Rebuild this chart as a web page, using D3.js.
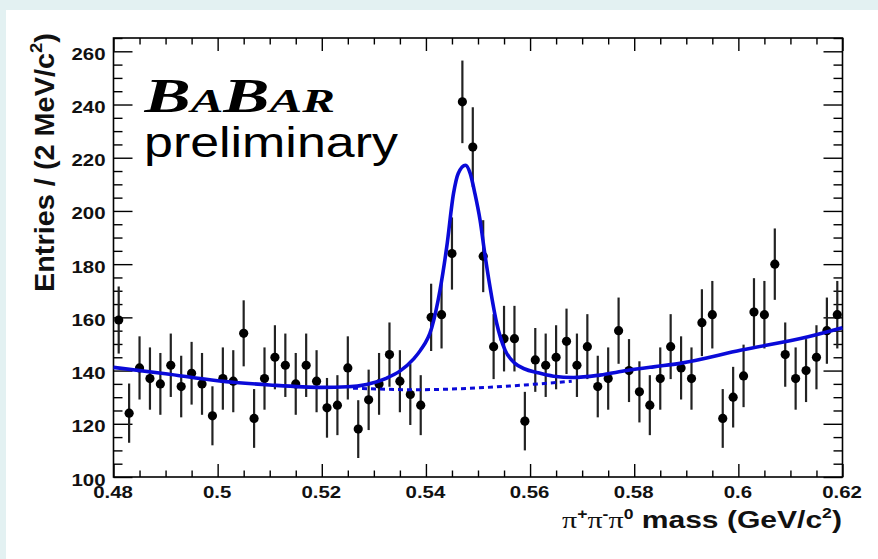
<!DOCTYPE html>
<html>
<head>
<meta charset="utf-8">
<script src="https://cdn.jsdelivr.net/npm/d3@7/dist/d3.min.js"></script>
<style>
  body { margin: 0; background: #e3f1f2; }
  svg { display: block; }
  .axis path.domain { display: none; }
  .axis line { stroke: #000; stroke-width: 1.4; }
  .axis text { font-family: "Liberation Sans", Arial, sans-serif; font-weight: bold; font-size: 17px; fill: #111; }
</style>
</head>
<body>
<svg id="chart" width="878" height="559"></svg>
<script>
/*
******************************** DATA ********************************
*/
// histogram: pi+ pi- pi0 mass, 2 MeV bins from 0.48 to 0.62 GeV
var massMin = 0.48, massMax = 0.62, binWidth = 0.002;
var counts = [
  159, 124, 141, 137, 135, 142, 134, 139, 135, 123,
  137, 136, 154, 122, 137, 145, 142, 135, 142, 136,
  126, 127, 141, 118, 129, 135, 146, 136, 131, 127,
  160, 161, 184, 241, 224, 183, 149, 152, 152, 121,
  144, 142, 145, 151, 142, 149, 134, 137, 155, 140,
  132, 127, 137, 149, 141, 137, 158, 161, 122, 130,
  138, 162, 161, 180, 146, 137, 140, 145, 155, 161
];

// total fit (solid)
var fitMass  = [0.480, 0.490, 0.500, 0.510, 0.520, 0.525, 0.5286, 0.5325, 0.5350, 0.5376,
                0.5389, 0.5411, 0.5427, 0.5440, 0.5453, 0.5462, 0.5476, 0.5485, 0.5494, 0.5504,
                0.5513, 0.5523, 0.5536, 0.5552, 0.5571, 0.5590, 0.5613, 0.5645, 0.5683, 0.5734,
                0.5786, 0.5837, 0.5888, 0.6006, 0.6134, 0.620];
var fitValue = [141.2, 138.8, 136.2, 134.6, 133.7, 133.9, 134.8, 137.2, 139.8, 144.3,
                147.5, 156.0, 170.2, 186.5, 206.6, 214.1, 217.2, 214.1, 206.6, 196.5,
                184.0, 171.5, 157.7, 147.7, 142.7, 140.6, 139.3, 137.9, 137.4, 138.3,
                140.0, 141.4, 142.7, 147.7, 152.7, 156.1];

// background only (dashed) under the peak
var bkgMass  = [0.526, 0.538, 0.548, 0.559, 0.568];
var bkgValue = [133.4, 132.8, 133.3, 134.6, 136.0];

var xTicks = [0.48, 0.50, 0.52, 0.54, 0.56, 0.58, 0.60, 0.62];
var xTickLabels = ["0.48", "0.5", "0.52", "0.54", "0.56", "0.58", "0.6", "0.62"];
var yTicks = [100, 120, 140, 160, 180, 200, 220, 240, 260];
var yTickLabels = ["100", "120", "140", "160", "180", "200", "220", "240", "260"];

/*
******************************** SETUP ********************************
*/
var svg = d3.select("#chart"),
    width = +svg.attr("width"),
    height = +svg.attr("height");

var frame = { left: 113.5, right: 842.5, top: 38, bottom: 477 };

var x = d3.scaleLinear().domain([massMin, massMax]).range([frame.left, frame.right]);
var y = d3.scaleLinear().domain([100, 265]).range([frame.bottom, frame.top]);

// page panel
svg.append("rect").attr("width", width).attr("height", height).attr("fill", "#e3f1f2");
svg.append("rect").attr("x", 6).attr("y", 10).attr("width", width - 6).attr("height", height - 10).attr("fill", "#fff");

/*
******************************** AXES ********************************
*/
var minorX = d3.range(0, 29).map(function (i) { return massMin + i * 0.005; })
    .filter(function (d, i) { return i % 4 !== 0; });
var minorY = d3.range(100, 266, 5).filter(function (d) { return d % 20 !== 0; });

// bottom
var gx = svg.append("g").attr("class", "axis").attr("transform", "translate(0," + frame.bottom + ")")
    .call(d3.axisBottom(x).tickValues(xTicks).tickSizeInner(-13).tickSizeOuter(0)
        .tickFormat(function (d, i) { return xTickLabels[i]; }));
gx.selectAll("text").attr("y", 0).attr("dy", 0).attr("transform", "translate(-1,21) scale(1.2,1)");
svg.append("g").attr("class", "axis").attr("transform", "translate(0," + frame.bottom + ")")
    .call(d3.axisBottom(x).tickValues(minorX).tickSizeInner(-6.5).tickSizeOuter(0).tickFormat(""));

// top
svg.append("g").attr("class", "axis").attr("transform", "translate(0," + frame.top + ")")
    .call(d3.axisTop(x).tickValues(xTicks).tickSizeInner(-13).tickSizeOuter(0).tickFormat(""));
svg.append("g").attr("class", "axis").attr("transform", "translate(0," + frame.top + ")")
    .call(d3.axisTop(x).tickValues(minorX).tickSizeInner(-6.5).tickSizeOuter(0).tickFormat(""));

// left
var gy = svg.append("g").attr("class", "axis").attr("transform", "translate(" + frame.left + ",0)")
    .call(d3.axisLeft(y).tickValues(yTicks).tickSizeInner(-19).tickSizeOuter(0)
        .tickFormat(function (d, i) { return yTickLabels[i]; }));
gy.selectAll("text").attr("x", 0).attr("dy", 0).attr("transform", "translate(-8,8) scale(1.2,1)");
svg.append("g").attr("class", "axis").attr("transform", "translate(" + frame.left + ",0)")
    .call(d3.axisLeft(y).tickValues(minorY).tickSizeInner(-9).tickSizeOuter(0).tickFormat(""));

// right
svg.append("g").attr("class", "axis").attr("transform", "translate(" + frame.right + ",0)")
    .call(d3.axisRight(y).tickValues(yTicks).tickSizeInner(-19).tickSizeOuter(0).tickFormat(""));
svg.append("g").attr("class", "axis").attr("transform", "translate(" + frame.right + ",0)")
    .call(d3.axisRight(y).tickValues(minorY).tickSizeInner(-9).tickSizeOuter(0).tickFormat(""));

// frame
svg.append("rect")
    .attr("x", frame.left).attr("y", frame.top)
    .attr("width", frame.right - frame.left).attr("height", frame.bottom - frame.top)
    .attr("fill", "none").attr("stroke", "#000").attr("stroke-width", 1.6);

/*
******************************** DATA POINTS ********************************
*/
function binCenter(i) { return massMin + binWidth * (i + 0.5); }

var pts = svg.append("g");
pts.selectAll("line").data(counts).enter().append("line")
    .attr("x1", function (d, i) { return x(binCenter(i)); })
    .attr("x2", function (d, i) { return x(binCenter(i)); })
    .attr("y1", function (d) { return y(d - Math.sqrt(d)); })
    .attr("y2", function (d) { return y(d + Math.sqrt(d)); })
    .attr("stroke", "#222").attr("stroke-width", 2.2);
pts.selectAll("circle").data(counts).enter().append("circle")
    .attr("cx", function (d, i) { return x(binCenter(i)); })
    .attr("cy", function (d) { return y(d); })
    .attr("r", 4.6).attr("fill", "#000");

/*
******************************** FIT CURVES ********************************
*/
var line = d3.line()
    .x(function (d) { return x(d[0]); })
    .y(function (d) { return y(d[1]); })
    .curve(d3.curveMonotoneX);

svg.append("path")
    .datum(d3.zip(bkgMass, bkgValue))
    .attr("d", line).attr("fill", "none")
    .attr("stroke", "#0a0ad8").attr("stroke-width", 3).attr("stroke-dasharray", "5,4");

svg.append("path")
    .datum(d3.zip(fitMass, fitValue))
    .attr("d", line).attr("fill", "none")
    .attr("stroke", "#0a0ad8").attr("stroke-width", 3.6).attr("stroke-linejoin", "round");

/*
******************************** TEXT ********************************
*/
// squeeze / stretch a text group so it covers a given length
function placeText(g, tx, ty, target, rot, cross) {
    var bb = g.node().getBBox();
    var s = target / bb.width;
    g.attr("transform", "translate(" + tx + "," + ty + ") rotate(" + rot + ") scale(" + s + "," + cross + ") translate(" + (-bb.x) + ",0)");
}

// BaBar logo
var logo = svg.append("g");
var lt = logo.append("text")
    .attr("font-family", "'Liberation Serif', 'Times New Roman', serif")
    .attr("font-weight", "bold").attr("font-style", "italic").attr("fill", "#000");
lt.append("tspan").attr("font-size", 48).text("B");
lt.append("tspan").attr("font-size", 34).text("A");
lt.append("tspan").attr("font-size", 48).text("B");
lt.append("tspan").attr("font-size", 34).text("AR");
placeText(logo, 143, 111.7, 192, 0, 1.02);

var prelim = svg.append("g");
prelim.append("text")
    .attr("font-family", "'Liberation Sans', Arial, sans-serif")
    .attr("font-size", 42).attr("fill", "#000")
    .text("preliminary");
placeText(prelim, 144, 156.7, 254, 0, 1);

// y title
var ytitle = svg.append("g");
var yt = ytitle.append("text")
    .attr("font-family", "'Liberation Sans', Arial, sans-serif")
    .attr("font-weight", "bold").attr("font-size", 25).attr("fill", "#111");
yt.append("tspan").text("Entries / (2 MeV/c");
yt.append("tspan").attr("font-size", 16).attr("dy", -11).text("2");
yt.append("tspan").attr("dy", 11).text(")");
placeText(ytitle, 54, 292, 259, -90, 1.08);

// x title
var xtitle = svg.append("g");
var xt = xtitle.append("text")
    .attr("font-family", "'Liberation Sans', Arial, sans-serif")
    .attr("font-weight", "bold").attr("font-size", 24).attr("fill", "#111");
var serif = "'Liberation Serif', 'Times New Roman', serif";
xt.append("tspan").attr("font-family", serif).attr("font-weight", "normal").text("π");
xt.append("tspan").attr("font-size", 14).attr("dy", -9).text("+");
xt.append("tspan").attr("font-family", serif).attr("font-weight", "normal").attr("dy", 9).text("π");
xt.append("tspan").attr("font-size", 14).attr("dy", -9).text("-");
xt.append("tspan").attr("font-family", serif).attr("font-weight", "normal").attr("dy", 9).text("π");
xt.append("tspan").attr("font-size", 14).attr("dy", -9).text("0");
xt.append("tspan").attr("dy", 9).text(" mass (GeV/c");
xt.append("tspan").attr("font-size", 14).attr("dy", -10).text("2");
xt.append("tspan").attr("dy", 10).text(")");
placeText(xtitle, 842 - 280, 528, 280, 0, 1);
</script>
</body>
</html>
